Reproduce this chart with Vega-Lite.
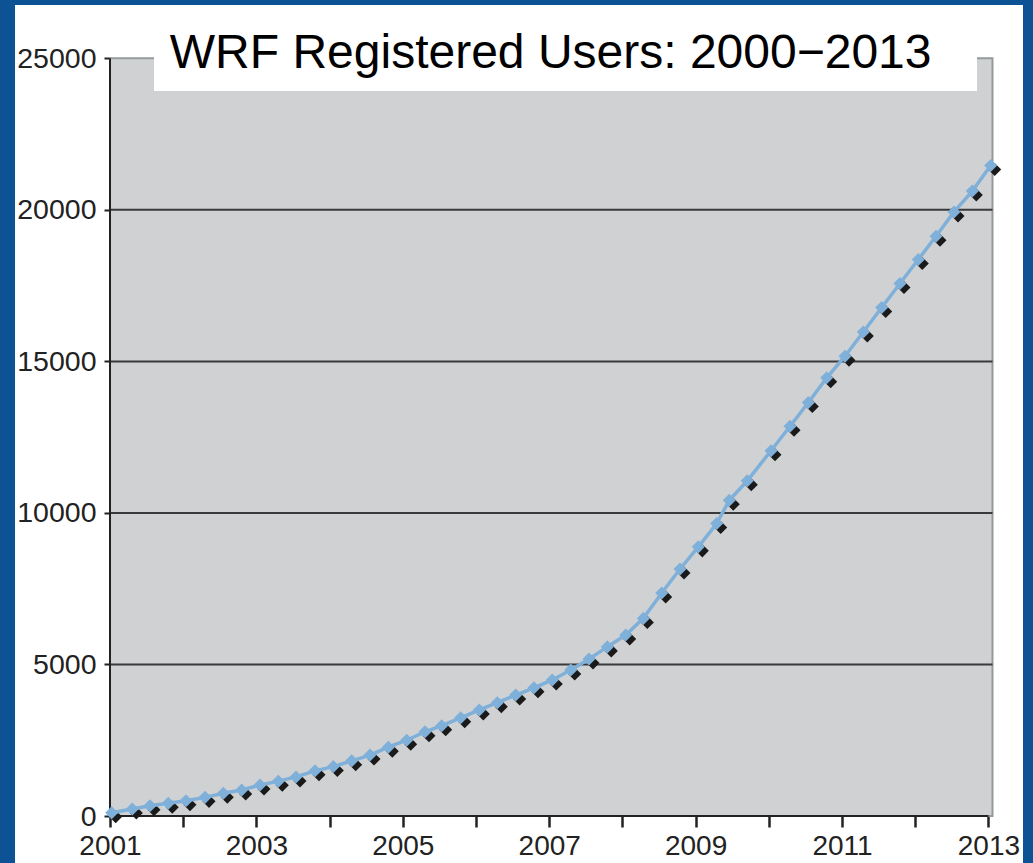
{
  "$schema": "https://vega.github.io/schema/vega-lite/v6.json",
  "width": 1008,
  "height": 858,
  "autosize": {"type": "none"},
  "padding": {"left": 15, "top": 5, "right": 10, "bottom": 0},
  "background": "#0E5296",
  "config": {
    "view": {"fill": "#FFFFFF", "stroke": null},
    "axis": {
      "labelFont": "Liberation Sans",
      "labelFontSize": 28.5,
      "labelColor": "#222222",
      "tickColor": "#222222",
      "labelFlush": false,
      "labelOverlap": false,
      "labelBound": false
    }
  },
  "data": {
    "values": [
      {"year": 2001.023, "users": 110},
      {"year": 2001.305, "users": 230},
      {"year": 2001.546, "users": 340},
      {"year": 2001.796, "users": 420},
      {"year": 2002.038, "users": 505},
      {"year": 2002.298, "users": 615},
      {"year": 2002.548, "users": 750},
      {"year": 2002.799, "users": 860},
      {"year": 2003.049, "users": 1020},
      {"year": 2003.299, "users": 1150},
      {"year": 2003.541, "users": 1290},
      {"year": 2003.801, "users": 1490},
      {"year": 2004.051, "users": 1630},
      {"year": 2004.302, "users": 1820},
      {"year": 2004.552, "users": 2010},
      {"year": 2004.802, "users": 2270},
      {"year": 2005.053, "users": 2500},
      {"year": 2005.303, "users": 2780},
      {"year": 2005.531, "users": 2980},
      {"year": 2005.791, "users": 3240},
      {"year": 2006.045, "users": 3500},
      {"year": 2006.291, "users": 3740},
      {"year": 2006.542, "users": 3990},
      {"year": 2006.792, "users": 4230},
      {"year": 2007.042, "users": 4490},
      {"year": 2007.294, "users": 4820},
      {"year": 2007.544, "users": 5180},
      {"year": 2007.794, "users": 5580},
      {"year": 2008.045, "users": 5970},
      {"year": 2008.286, "users": 6520},
      {"year": 2008.537, "users": 7360},
      {"year": 2008.787, "users": 8150},
      {"year": 2009.037, "users": 8880},
      {"year": 2009.288, "users": 9650},
      {"year": 2009.46, "users": 10420},
      {"year": 2009.706, "users": 11060},
      {"year": 2010.03, "users": 12050},
      {"year": 2010.29, "users": 12860},
      {"year": 2010.54, "users": 13640},
      {"year": 2010.791, "users": 14460},
      {"year": 2011.041, "users": 15170},
      {"year": 2011.291, "users": 15970},
      {"year": 2011.542, "users": 16780},
      {"year": 2011.792, "users": 17570},
      {"year": 2012.042, "users": 18360},
      {"year": 2012.284, "users": 19130},
      {"year": 2012.53, "users": 19930},
      {"year": 2012.78, "users": 20620},
      {"year": 2013.031, "users": 21460}
    ]
  },
  "layer": [
    {
      "data": {"values": [{}]},
      "mark": {"type": "rect", "fill": "#D0D1D3", "stroke": "#949A9A", "strokeWidth": 2},
      "encoding": {
        "x": {"datum": 2001, "type": "quantitative", "scale": {"domain": [1999.7022, 2013.4727], "nice": false, "zero": false}},
        "x2": {"datum": 2013.056},
        "y": {"datum": 0, "type": "quantitative", "scale": {"domain": [-1550.7, 26758.6], "nice": false, "zero": false}},
        "y2": {"datum": 25000}
      }
    },
    {
      "data": {"values": [{"g": 5000}, {"g": 10000}, {"g": 15000}, {"g": 20000}]},
      "mark": {"type": "rule", "color": "#3A3A3A", "strokeWidth": 2},
      "encoding": {
        "x": {"datum": 2001, "type": "quantitative", "scale": {"domain": [1999.7022, 2013.4727], "nice": false, "zero": false}},
        "x2": {"datum": 2013.056},
        "y": {"field": "g", "type": "quantitative", "scale": {"domain": [-1550.7, 26758.6], "nice": false, "zero": false}, "axis": {"title": null}}
      }
    },
    {
      "data": {"values": [{}]},
      "mark": {"type": "rule", "color": "#222222", "strokeWidth": 2},
      "encoding": {
        "x": {"datum": 2001, "type": "quantitative", "scale": {"domain": [1999.7022, 2013.4727], "nice": false, "zero": false}},
        "y": {"datum": 0, "type": "quantitative", "scale": {"domain": [-1550.7, 26758.6], "nice": false, "zero": false}},
        "y2": {"datum": 25000}
      }
    },
    {
      "data": {"values": [{}]},
      "mark": {"type": "rule", "color": "#222222", "strokeWidth": 2},
      "encoding": {
        "x": {"datum": 2001, "type": "quantitative", "scale": {"domain": [1999.7022, 2013.4727], "nice": false, "zero": false}},
        "x2": {"datum": 2013},
        "y": {"datum": 0, "type": "quantitative", "scale": {"domain": [-1550.7, 26758.6], "nice": false, "zero": false}}
      }
    },
    {
      "encoding": {
        "x": {
          "field": "year",
          "type": "quantitative",
          "scale": {"domain": [1999.7022, 2013.4727], "nice": false, "zero": false},
          "axis": {
            "title": null,
            "values": [2001, 2001.5, 2002, 2002.5, 2003, 2003.5, 2004, 2004.5, 2005, 2005.5, 2006, 2006.5, 2007, 2007.5, 2008, 2008.5, 2009, 2009.5, 2010, 2010.5, 2011, 2011.5, 2012, 2012.5, 2013],
            "offset": -47,
            "domain": false,
            "grid": false,
            "format": "d",
            "labelFontSize": 28,
            "labelExpr": "(datum.value % 2 === 1) ? datum.label : ''",
            "tickSize": {"condition": {"test": "datum.value % 1 === 0", "value": 11}, "value": 6},
            "tickWidth": {"condition": {"test": "datum.value % 1 === 0", "value": 2.5}, "value": 1.5},
            "labelPadding": 5
          }
        },
        "y": {
          "field": "users",
          "type": "quantitative",
          "scale": {"domain": [-1550.7, 26758.6], "nice": false, "zero": false},
          "axis": {
            "title": null,
            "values": [0, 5000, 10000, 15000, 20000, 25000],
            "offset": -95,
            "domain": false,
            "grid": false,
            "format": "d",
            "tickSize": 6,
            "tickWidth": 2,
            "labelPadding": 8
          }
        }
      },
      "layer": [
        {
          "mark": {"type": "point", "shape": "diamond", "filled": true, "size": 170, "color": "#1A1A1A", "opacity": 1, "xOffset": 4, "yOffset": 4}
        },
        {
          "mark": {"type": "line", "color": "#7FB0DA", "strokeWidth": 3.5}
        },
        {
          "mark": {"type": "point", "shape": "diamond", "filled": true, "size": 170, "color": "#7FB0DA", "opacity": 1}
        }
      ]
    },
    {
      "data": {"values": [{}]},
      "mark": {"type": "rect", "fill": "#FFFFFF"},
      "encoding": {
        "x": {"datum": 2001.601, "type": "quantitative", "scale": {"domain": [1999.7022, 2013.4727], "nice": false, "zero": false}},
        "x2": {"datum": 2012.844},
        "y": {"datum": 23918, "type": "quantitative", "scale": {"domain": [-1550.7, 26758.6], "nice": false, "zero": false}},
        "y2": {"datum": 26758.6}
      }
    },
    {
      "data": {"values": [{"title": "WRF Registered Users: 2000−2013"}]},
      "mark": {"type": "text", "font": "Liberation Sans", "fontSize": 48, "color": "#000000", "align": "center", "baseline": "alphabetic"},
      "encoding": {
        "x": {"datum": 2007.02, "type": "quantitative", "scale": {"domain": [1999.7022, 2013.4727], "nice": false, "zero": false}},
        "y": {"datum": 24676, "type": "quantitative", "scale": {"domain": [-1550.7, 26758.6], "nice": false, "zero": false}},
        "text": {"field": "title"}
      }
    }
  ]
}
